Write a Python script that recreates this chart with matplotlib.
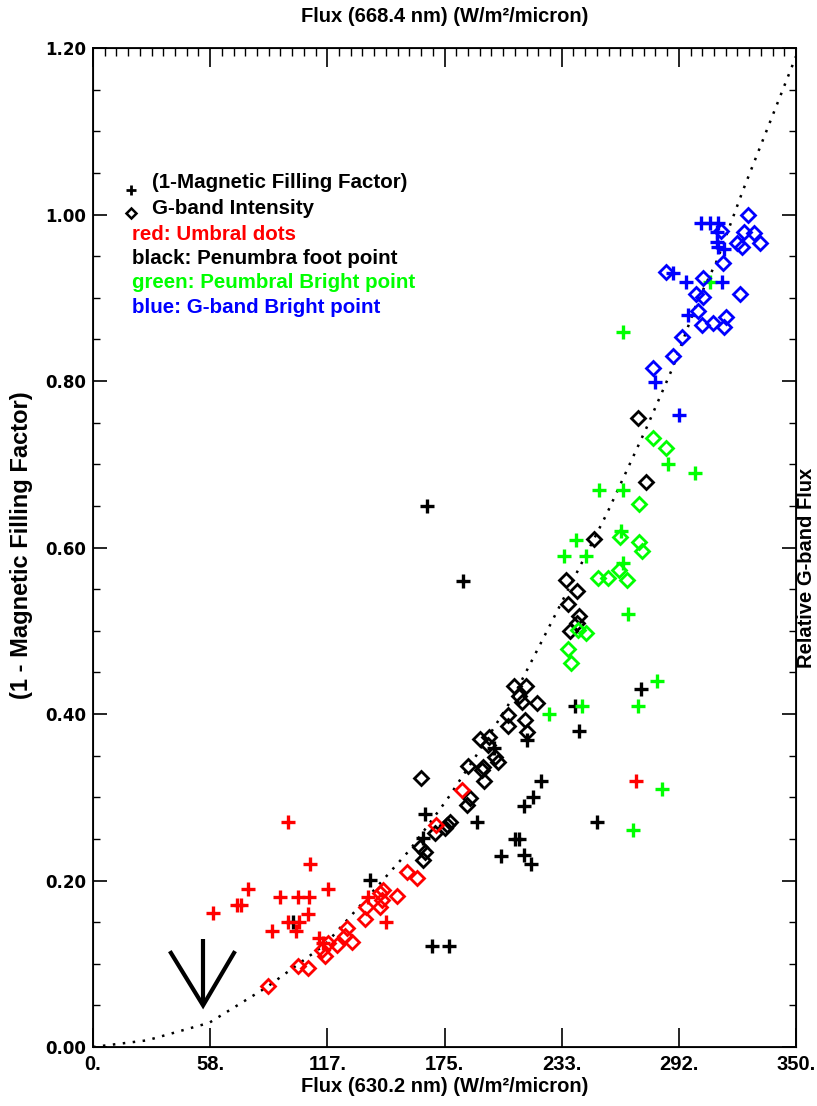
import matplotlib
matplotlib.use("Agg")
import matplotlib.pyplot as plt
import numpy as np

# ---------------- data ----------------
red_plus_x = [59.7, 71.7, 73.7, 77.2, 93.1, 97.1, 102.1, 107.5, 108.0, 117.0,
              89.1, 97.1, 102.6, 101.1, 107.0, 112.5, 114.5, 145.9, 136.9, 270.3]
red_plus_y = [0.161, 0.171, 0.171, 0.190, 0.180, 0.270, 0.180, 0.180, 0.220, 0.190,
              0.139, 0.150, 0.150, 0.139, 0.160, 0.131, 0.125, 0.150, 0.180, 0.320]

red_dia_x = [87.1, 102.1, 107.0, 114.0, 115.5, 117.0, 121.5, 126.5, 125.5, 128.9,
             135.4, 135.9, 142.9, 143.9, 144.4, 142.9, 151.4, 156.3, 161.3, 170.8, 183.7]
red_dia_y = [0.073, 0.097, 0.095, 0.117, 0.109, 0.125, 0.123, 0.143, 0.133, 0.126,
             0.154, 0.168, 0.168, 0.177, 0.189, 0.185, 0.181, 0.210, 0.203, 0.267, 0.309]

black_plus_x = [166.3, 184.2, 137.9, 99.6, 165.3, 164.3, 191.2, 223.0, 219.1, 214.6,
                210.1, 212.1, 203.1, 214.6, 218.1, 216.1, 199.6, 240.0, 242.0, 272.8,
                250.9, 168.8, 177.2]
black_plus_y = [0.650, 0.560, 0.201, 0.150, 0.280, 0.251, 0.270, 0.320, 0.300, 0.289,
                0.250, 0.250, 0.229, 0.231, 0.220, 0.369, 0.359, 0.410, 0.380, 0.430,
                0.270, 0.121, 0.121]

black_dia_x = [275.3, 271.3, 249.4, 235.5, 241.0, 236.5, 242.0, 241.0, 237.5, 209.6,
               215.6, 212.1, 213.6, 221.1, 206.6, 206.6, 215.1, 216.1, 192.7, 197.2,
               196.7, 200.1, 201.6, 186.7, 194.2, 193.7, 194.7, 163.3, 187.7, 186.2,
               177.7, 176.2, 175.2, 170.3, 162.8, 165.3, 164.3]
black_dia_y = [0.679, 0.756, 0.610, 0.561, 0.548, 0.532, 0.518, 0.509, 0.500, 0.434,
               0.434, 0.422, 0.414, 0.413, 0.399, 0.386, 0.393, 0.378, 0.370, 0.372,
               0.363, 0.348, 0.342, 0.338, 0.336, 0.333, 0.320, 0.323, 0.299, 0.291,
               0.270, 0.267, 0.263, 0.257, 0.240, 0.234, 0.225]

green_plus_x = [251.9, 263.9, 240.5, 234.5, 245.4, 262.9, 263.9, 266.4, 280.8, 271.3,
                243.5, 227.0, 283.3, 268.8, 263.9, 286.3, 299.7, 307.2]
green_plus_y = [0.669, 0.669, 0.609, 0.590, 0.590, 0.620, 0.581, 0.520, 0.440, 0.410,
                0.410, 0.400, 0.310, 0.261, 0.859, 0.700, 0.690, 0.919]

green_dia_x = [271.8, 262.4, 271.8, 273.3, 261.9, 251.4, 256.4, 265.9, 241.5, 245.4,
               236.5, 238.0, 278.8, 285.3]
green_dia_y = [0.652, 0.613, 0.607, 0.596, 0.573, 0.563, 0.563, 0.561, 0.501, 0.497,
               0.478, 0.461, 0.732, 0.720]

blue_plus_x = [302.7, 307.2, 311.2, 310.7, 310.7, 311.2, 314.2, 288.8, 295.2, 313.2,
               296.2, 279.8, 291.8]
blue_plus_y = [0.990, 0.990, 0.990, 0.979, 0.967, 0.961, 0.959, 0.930, 0.919, 0.919,
               0.879, 0.799, 0.759]

blue_dia_x = [326.1, 312.7, 324.1, 329.1, 332.1, 320.6, 323.1, 313.7, 285.3, 303.7,
              300.2, 303.7, 322.1, 301.2, 303.2, 308.7, 315.2, 314.2, 293.2, 288.8, 278.8]
blue_dia_y = [0.999, 0.980, 0.979, 0.978, 0.966, 0.966, 0.961, 0.942, 0.931, 0.924,
              0.905, 0.901, 0.905, 0.884, 0.867, 0.870, 0.877, 0.865, 0.853, 0.830, 0.816]

# dotted relation curve
curve_x = [0.0, 26.9, 57.8, 86.6, 115.5, 137.9, 157.8, 176.2, 192.7, 209.1,
           222.5, 239.0, 255.9, 275.8, 288.8, 300.7, 310.7, 323.6, 350.0]
curve_y = [0.000, 0.008, 0.029, 0.072, 0.123, 0.183, 0.237, 0.297, 0.357, 0.420,
           0.483, 0.561, 0.641, 0.745, 0.817, 0.894, 0.945, 1.029, 1.190]

xtick_vals = [0.0, 58.33, 116.67, 175.0, 233.33, 291.67, 350.0]
xtick_labels = ["0.", "58.", "117.", "175.", "233.", "292.", "350."]
ytick_vals = [0.0, 0.2, 0.4, 0.6, 0.8, 1.0, 1.2]
ytick_labels = ["0.00", "0.20", "0.40", "0.60", "0.80", "1.00", "1.20"]

legend_lines = ["red: Umbral dots", "black: Penumbra foot point",
                "green: Peumbral Bright point", "blue: G-band Bright point"]
legend_colors = ["#ff0000", "#000000", "#00ff00", "#0000ff"]

sans = "Liberation Sans"

W, H = 817, 1106
fig = plt.figure(figsize=(W / 100, H / 100), dpi=100)
L, R, T, B = 93, 796, 48, 1047
ax = fig.add_axes([L / W, 1 - B / H, (R - L) / W, (B - T) / H])

ax.set_xlim(0, 350)
ax.set_ylim(0, 1.2)

RED, GREEN, BLUE, BLACK = "#ff0000", "#00ff00", "#0000ff", "#000000"
pkw = dict(linestyle="none", marker="+", markersize=10.5, markeredgewidth=2.4)
dkw = dict(linestyle="none", marker="D", markersize=7.2, markeredgewidth=2.0,
           markerfacecolor="none")

ax.plot(curve_x, curve_y, linestyle=(0, (1, 3)), color="black", linewidth=1.8,
        zorder=1)

ax.plot(black_dia_x, black_dia_y, color=BLACK, markeredgecolor=BLACK, **dkw)
ax.plot(black_plus_x, black_plus_y, color=BLACK, **pkw)
ax.plot(red_dia_x, red_dia_y, color=RED, markeredgecolor=RED, **dkw)
ax.plot(red_plus_x, red_plus_y, color=RED, **pkw)
ax.plot(green_dia_x, green_dia_y, color=GREEN, markeredgecolor=GREEN, **dkw)
ax.plot(green_plus_x, green_plus_y, color=GREEN, **pkw)
ax.plot(blue_dia_x, blue_dia_y, color=BLUE, markeredgecolor=BLUE, **dkw)
ax.plot(blue_plus_x, blue_plus_y, color=BLUE, **pkw)

# arrow (V shape pointing down)
ax.plot([54.8, 54.8], [0.13, 0.05], color="black", linewidth=3.0,
        solid_capstyle="butt")
ax.plot([38.8, 54.8, 70.2], [0.113, 0.05, 0.113], color="black", linewidth=3.0,
        solid_joinstyle="miter")

# ---------------- axes / ticks ----------------
for s in ax.spines.values():
    s.set_linewidth(1.3)

ax.set_xticks(xtick_vals)
ax.set_xticklabels(xtick_labels, fontfamily=sans, fontweight="bold", fontsize=14.5)
ax.set_yticks(ytick_vals)
ax.set_yticklabels(ytick_labels, fontfamily="DejaVu Sans", fontweight="bold", fontsize=12)
ax.set_yticks(np.arange(0, 1.2001, 0.05), minor=True)
ax.tick_params(axis="x", which="major", direction="in", length=14, width=1.2,
               pad=6, bottom=True, top=False)
ax.tick_params(axis="y", which="major", direction="in", length=10, width=1.2,
               pad=5, left=True, right=True)
ax.tick_params(axis="y", which="minor", direction="in", length=5, width=1.0,
               left=True, right=True)
ax.tick_params(axis="x", which="minor", bottom=False, top=False)

# top axis
top = ax.twiny()
top.set_xlim(0, 350)
top.set_xticks(xtick_vals)
top.set_xticklabels([])
top.set_xticks(np.linspace(0, 350, 61), minor=True)
top.tick_params(axis="x", which="major", direction="in", length=14, width=1.2)
top.tick_params(axis="x", which="minor", direction="in", length=6, width=1.0)
top.set_xlabel("Flux (668.4 nm) (W/m\u00b2/micron)",
               fontfamily=sans, fontweight="bold", fontsize=14.5, labelpad=15)

ax.set_xlabel("Flux (630.2 nm) (W/m\u00b2/micron)",
              fontfamily=sans, fontweight="bold", fontsize=14.5, labelpad=2)


def fx(px):
    return px / W


def fy(py):
    return 1 - py / H


fig.text(fx(22), fy(545), "(1 - Magnetic Filling Factor)", rotation=90,
         ha="center", va="center", fontfamily=sans, fontweight="bold",
         fontsize=17)
fig.text(fx(806), fy(568), "Relative G-band Flux", rotation=90,
         ha="center", va="center", fontfamily=sans, fontweight="bold",
         fontsize=14.5)

# ---------------- legend ----------------
fig.text(fx(152), fy(183), "(1-Magnetic Filling Factor)", ha="left", va="center",
         fontfamily=sans, fontweight="bold", fontsize=14.8)
fig.text(fx(152), fy(208), "G-band Intensity", ha="left", va="center",
         fontfamily=sans, fontweight="bold", fontsize=14.8)
fig.lines.append(plt.Line2D([fx(131)], [fy(190)], transform=fig.transFigure,
                            marker="+", markersize=7, markeredgewidth=2.0,
                            color="black", linestyle="none"))
fig.lines.append(plt.Line2D([fx(131)], [fy(213)], transform=fig.transFigure,
                            marker="D", markersize=5.5, markeredgewidth=1.8,
                            markerfacecolor="none", markeredgecolor="black",
                            linestyle="none"))
for i, (txt, col) in enumerate(zip(legend_lines, legend_colors)):
    fig.text(fx(132), fy(234 + 24.5 * i), txt, ha="left", va="center",
             color=col, fontfamily=sans, fontweight="bold", fontsize=14.8)

fig.savefig("out.png", dpi=100, facecolor="white")
